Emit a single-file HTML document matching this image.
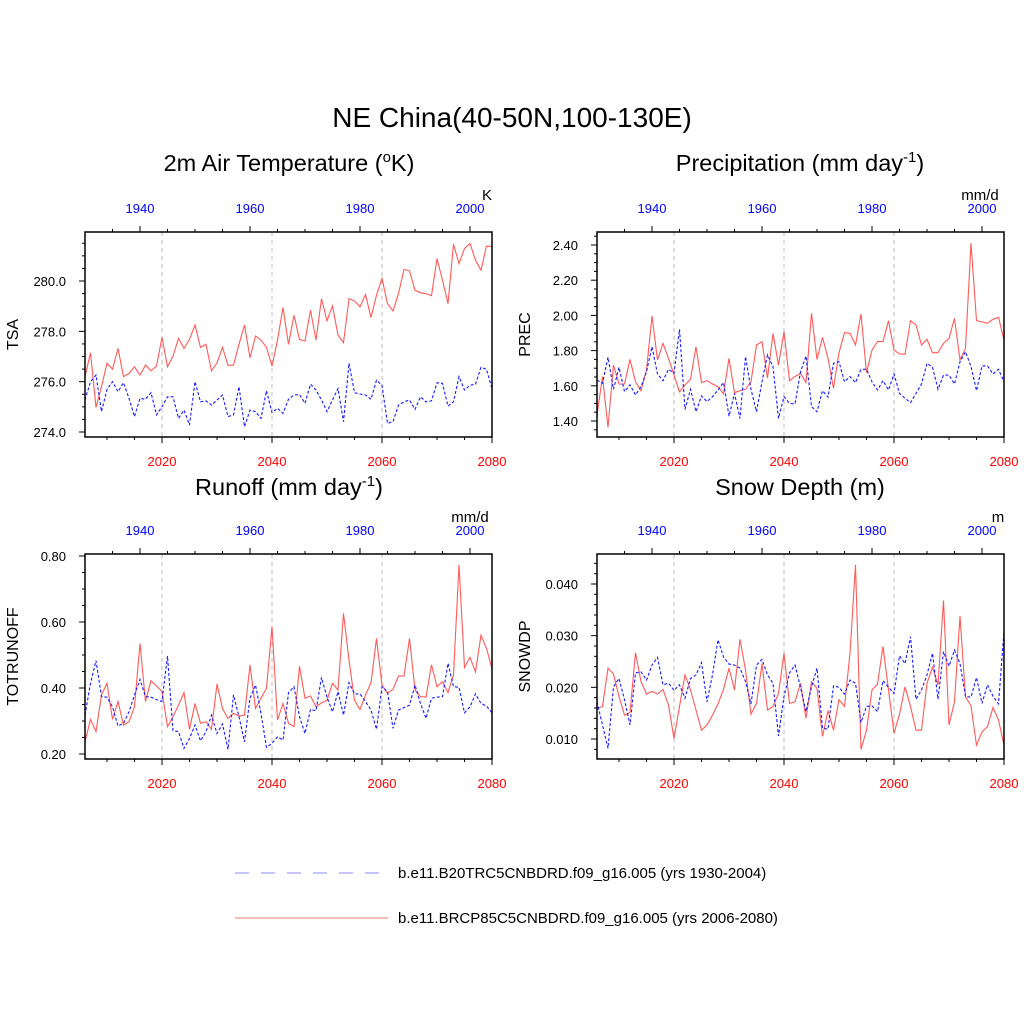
<!DOCTYPE html>
<html><head><meta charset="utf-8"><style>
body{margin:0;background:#fff;}
svg text{font-family:"Liberation Sans",sans-serif;}
</style></head><body>
<svg id="chart" xmlns="http://www.w3.org/2000/svg" width="1024" height="1024" viewBox="0 0 1024 1024">
<rect width="1024" height="1024" fill="#fff"/>
<text x="512" y="127" font-size="28" text-anchor="middle">NE China(40-50N,100-130E)</text>
<text x="289" y="171" font-size="23.5" text-anchor="middle">2m Air Temperature (<tspan font-size="15" dy="-9">o</tspan><tspan dy="9">K)</tspan></text>
<text x="800" y="171" font-size="23.5" text-anchor="middle">Precipitation (mm day<tspan font-size="15" dy="-9">-1</tspan><tspan dy="9">)</tspan></text>
<text x="289" y="495" font-size="23.5" text-anchor="middle">Runoff (mm day<tspan font-size="15" dy="-9">-1</tspan><tspan dy="9">)</tspan></text>
<text x="800" y="495" font-size="23.5" text-anchor="middle">Snow Depth (m)</text>
<g id="panels"></g>
<g>
<line x1="235" y1="873" x2="388" y2="873" stroke="#8888ff" stroke-width="1" stroke-dasharray="14,12"/>
<text x="398" y="878" font-size="15">b.e11.B20TRC5CNBDRD.f09_g16.005 (yrs 1930-2004)</text>
<line x1="235" y1="918" x2="388" y2="918" stroke="#ff7777" stroke-width="1"/>
<text x="398" y="923" font-size="15">b.e11.BRCP85C5CNBDRD.f09_g16.005 (yrs 2006-2080)</text>
</g>
</svg>
<script>
const futureYears = [2006, 2080];
const histYears = [1930, 2004];
const bottomTicks = [2020, 2040, 2060, 2080];
const topTicks = [1940, 1960, 1980, 2000];

const tsaFuture = [276.20,277.15,274.98,275.80,276.73,276.49,277.32,276.20,276.33,276.59,276.26,276.66,276.43,276.62,277.76,276.59,277.02,277.72,277.32,277.68,278.25,277.36,277.48,276.43,276.75,277.36,276.65,276.66,277.49,278.25,276.95,277.81,277.65,277.36,276.62,277.65,278.95,277.48,278.64,277.68,277.61,278.84,277.65,279.30,278.42,279.01,277.85,277.55,279.30,279.21,278.97,279.46,278.55,279.44,280.10,279.10,278.81,279.50,280.46,280.40,279.63,279.53,279.50,279.42,280.89,280.03,279.10,281.46,280.69,281.29,281.49,280.83,280.43,281.38,281.38];
const tsaHist = [275.27,276.00,276.26,274.81,275.69,276.00,275.60,275.96,275.34,274.61,275.34,275.30,275.56,274.68,275.01,275.40,275.40,274.54,274.87,274.28,276.00,275.20,275.24,275.07,275.27,275.47,274.61,274.68,275.80,274.21,274.87,274.81,274.54,275.64,274.77,274.94,274.74,275.30,275.47,275.49,275.14,275.90,275.67,275.27,274.81,275.27,275.73,274.41,276.73,275.56,275.51,275.47,275.30,276.06,275.86,274.34,274.41,275.07,275.20,275.27,274.90,275.40,275.20,275.24,275.96,275.93,275.03,275.20,276.20,275.67,275.86,275.90,276.57,276.49,275.73];
const tsaTicks = [274.0, 276.0, 278.0, 280.0];

const precFuture = [1.434,1.652,1.364,1.718,1.610,1.610,1.750,1.623,1.572,1.690,1.996,1.747,1.841,1.756,1.661,1.566,1.605,1.637,1.822,1.618,1.629,1.610,1.595,1.554,1.756,1.561,1.572,1.580,1.623,1.832,1.851,1.643,1.898,1.718,1.908,1.629,1.652,1.671,1.618,2.012,1.750,1.875,1.756,1.586,1.788,1.902,1.898,1.832,2.008,1.675,1.803,1.851,1.851,1.970,1.803,1.781,1.779,1.970,1.946,1.832,1.864,1.788,1.788,1.841,1.870,1.983,1.747,1.813,2.410,1.970,1.963,1.955,1.978,1.989,1.860];
const precHist = [1.633,1.614,1.762,1.580,1.705,1.567,1.605,1.548,1.595,1.680,1.822,1.667,1.629,1.694,1.671,1.921,1.466,1.580,1.453,1.542,1.510,1.538,1.576,1.618,1.428,1.557,1.415,1.766,1.580,1.453,1.623,1.775,1.709,1.415,1.538,1.500,1.497,1.680,1.769,1.482,1.453,1.572,1.535,1.728,1.737,1.623,1.652,1.618,1.694,1.694,1.623,1.576,1.629,1.576,1.667,1.557,1.529,1.504,1.557,1.610,1.728,1.705,1.580,1.661,1.661,1.610,1.737,1.794,1.709,1.572,1.713,1.713,1.667,1.694,1.623];
const precTicks = [1.40, 1.60, 1.80, 2.00, 2.20, 2.40];

const roFuture = [0.237,0.305,0.268,0.379,0.414,0.305,0.359,0.288,0.298,0.343,0.535,0.359,0.422,0.406,0.389,0.283,0.313,0.348,0.386,0.275,0.353,0.293,0.298,0.275,0.412,0.338,0.308,0.323,0.315,0.318,0.470,0.338,0.369,0.399,0.586,0.303,0.353,0.293,0.283,0.466,0.369,0.376,0.343,0.355,0.363,0.414,0.394,0.626,0.485,0.363,0.335,0.379,0.416,0.550,0.409,0.384,0.396,0.436,0.436,0.550,0.394,0.374,0.372,0.470,0.404,0.419,0.386,0.439,0.773,0.462,0.493,0.449,0.560,0.520,0.459];
const roHist = [0.318,0.414,0.483,0.374,0.372,0.343,0.285,0.293,0.328,0.379,0.426,0.374,0.372,0.365,0.359,0.497,0.271,0.268,0.217,0.247,0.288,0.240,0.268,0.318,0.262,0.291,0.214,0.379,0.313,0.237,0.369,0.409,0.323,0.220,0.232,0.252,0.242,0.386,0.404,0.313,0.262,0.335,0.331,0.432,0.372,0.328,0.389,0.318,0.416,0.382,0.382,0.359,0.333,0.275,0.404,0.389,0.278,0.333,0.341,0.348,0.409,0.353,0.308,0.369,0.372,0.374,0.475,0.404,0.402,0.325,0.343,0.382,0.353,0.345,0.325];
const roTicks = [0.20, 0.40, 0.60, 0.80];

const snowFuture = [0.0159,0.0163,0.0237,0.0226,0.0182,0.0146,0.0151,0.0267,0.0211,0.0187,0.0192,0.0187,0.0196,0.0166,0.0101,0.0163,0.0224,0.0195,0.0156,0.0117,0.0127,0.0146,0.0168,0.0196,0.0237,0.0195,0.0293,0.0234,0.0148,0.0169,0.0246,0.0156,0.0163,0.0188,0.0266,0.0169,0.0172,0.0208,0.0140,0.0211,0.0198,0.0105,0.0155,0.0117,0.0176,0.0163,0.0266,0.0437,0.0080,0.0117,0.0195,0.0206,0.0279,0.0195,0.0111,0.0148,0.0201,0.0163,0.0117,0.0117,0.0208,0.0239,0.0205,0.0368,0.0127,0.0172,0.0338,0.0182,0.0164,0.0088,0.0114,0.0124,0.0161,0.0137,0.0088];
const snowHist = [0.0172,0.0127,0.0082,0.0201,0.0217,0.0176,0.0127,0.0228,0.0230,0.0214,0.0243,0.0258,0.0205,0.0208,0.0194,0.0205,0.0179,0.0217,0.0224,0.0248,0.0172,0.0224,0.0292,0.0259,0.0245,0.0243,0.0237,0.0211,0.0168,0.0243,0.0254,0.0224,0.0208,0.0106,0.0182,0.0228,0.0243,0.0200,0.0153,0.0201,0.0237,0.0121,0.0119,0.0203,0.0200,0.0187,0.0214,0.0208,0.0132,0.0163,0.0164,0.0153,0.0213,0.0200,0.0188,0.0261,0.0246,0.0298,0.0177,0.0195,0.0224,0.0266,0.0177,0.0269,0.0241,0.0272,0.0246,0.0182,0.0181,0.0219,0.0169,0.0205,0.0183,0.0168,0.0308];
const snowTicks = [0.010, 0.020, 0.030, 0.040];

const NS = "http://www.w3.org/2000/svg";
const root = document.getElementById('panels');
function mk(tag, attrs, parent) {
  const e = document.createElementNS(NS, tag);
  for (const k in attrs) e.setAttribute(k, attrs[k]);
  (parent || root).appendChild(e);
  return e;
}

function panel(o) {
  const g = mk('g', {});
  
  
  const X0 = o.x, X1 = o.x + 407, Y0 = o.y, Y1 = o.y + 205;
  const xs = y => X0 + (y - futureYears[0]) / (futureYears[1] - futureYears[0]) * (X1 - X0);
  const xh = y => X0 + (y - histYears[0]) / (histYears[1] - histYears[0]) * (X1 - X0);
  const ys = v => o.py0 + (v - o.v0) / (o.v1 - o.v0) * (o.py1 - o.py0);
  for (const t of [2020, 2040, 2060]) {
    const l = mk('line', {x1: xs(t), x2: xs(t), y1: Y0, y2: Y1, stroke: '#bbb', 'stroke-dasharray': '4,4', 'stroke-width': 1}, g);
    
    
  }
  function series(arr, years, fx, color, dash, label) {
    const n = arr.length;
    let d = '';
    arr.forEach((v, i) => {
      const yr = years[0] + i * (years[1] - years[0]) / (n - 1);
      d += (i ? 'L' : 'M') + fx(yr).toFixed(1) + ',' + ys(v).toFixed(1);
    });
    const p = mk('path', {d: d, fill: 'none', stroke: color, 'stroke-width': 1.1, 'stroke-dasharray': dash}, g);
    
    
  }
  series(o.fut, futureYears, xs, '#ff5a5a', 'none', o.name + '-future-line');
  series(o.hist, histYears, xh, '#1a1aff', '3,2', o.name + '-historical-line');
  const b = mk('rect', {x: X0, y: Y0, width: X1 - X0, height: Y1 - Y0, fill: 'none', stroke: '#000', 'stroke-width': 1.5}, g);
  
  
  for (let yr = 2010; yr <= 2080; yr += 5) {
    const maj = yr % 20 === 0;
    mk('line', {x1: xs(yr), x2: xs(yr), y1: Y1, y2: Y1 + (maj ? 6 : 3), stroke: '#000'}, g);
  }
  for (const t of bottomTicks) {
    const tx = mk('text', {x: xs(t), y: Y1 + 29, 'font-size': 13, fill: '#ff0000', 'text-anchor': 'middle'}, g);
    tx.textContent = t;
    
    
  }
  for (let yr = 1935; yr <= 2000; yr += 5) {
    const maj = yr % 20 === 0;
    mk('line', {x1: xh(yr), x2: xh(yr), y1: Y0, y2: Y0 - (maj ? 6 : 3), stroke: '#000'}, g);
  }
  for (const t of topTicks) {
    const tx = mk('text', {x: xh(t), y: Y0 - 19, 'font-size': 13, fill: '#0000ff', 'text-anchor': 'middle'}, g);
    tx.textContent = t;
    
    
  }
  const step = o.minor;
  for (let v = o.ticks[0] - step * 10; v <= o.ticks[o.ticks.length - 1] + step * 10; v += step) {
    const py = ys(v);
    if (py < Y0 - 0.5 || py > Y1 + 0.5) continue;
    const maj = o.ticks.some(t => Math.abs(t - v) < step / 10);
    mk('line', {x1: X0, x2: X0 - (maj ? 6 : 3), y1: py, y2: py, stroke: '#000'}, g);
  }
  for (const t of o.ticks) {
    const tx = mk('text', {x: X0 - 19, y: ys(t) + 5, 'font-size': 13, 'text-anchor': 'end'}, g);
    tx.textContent = t.toFixed(o.dec);
    
    
  }
  const yt = mk('text', {x: 0, y: 0, 'font-size': 16, 'text-anchor': 'middle', transform: 'translate(' + (X0 - 67) + ',' + ((Y0 + Y1) / 2) + ') rotate(-90)'}, g);
  yt.textContent = o.ylabel;
  
  
  const u = mk('text', {x: o.ux, y: Y0 - 32, 'font-size': 15, 'text-anchor': 'middle'}, g);
  u.textContent = o.unit;
  
  
}

panel({name: 'tsa', x: 85, y: 232, fut: tsaFuture, hist: tsaHist, ticks: tsaTicks, minor: 0.5, dec: 1, v0: 274, v1: 280, py0: 432, py1: 281, ylabel: 'TSA', unit: 'K', ux: 487});
panel({name: 'prec', x: 597, y: 232, fut: precFuture, hist: precHist, ticks: precTicks, minor: 0.05, dec: 2, v0: 1.4, v1: 2.4, py0: 421, py1: 245, ylabel: 'PREC', unit: 'mm/d', ux: 980});
panel({name: 'runoff', x: 85, y: 554, fut: roFuture, hist: roHist, ticks: roTicks, minor: 0.05, dec: 2, v0: 0.2, v1: 0.8, py0: 754, py1: 556, ylabel: 'TOTRUNOFF', unit: 'mm/d', ux: 470});
panel({name: 'snow', x: 597, y: 554, fut: snowFuture, hist: snowHist, ticks: snowTicks, minor: 0.002, dec: 3, v0: 0.01, v1: 0.04, py0: 739, py1: 584, ylabel: 'SNOWDP', unit: 'm', ux: 998});
</script>
</body></html>
